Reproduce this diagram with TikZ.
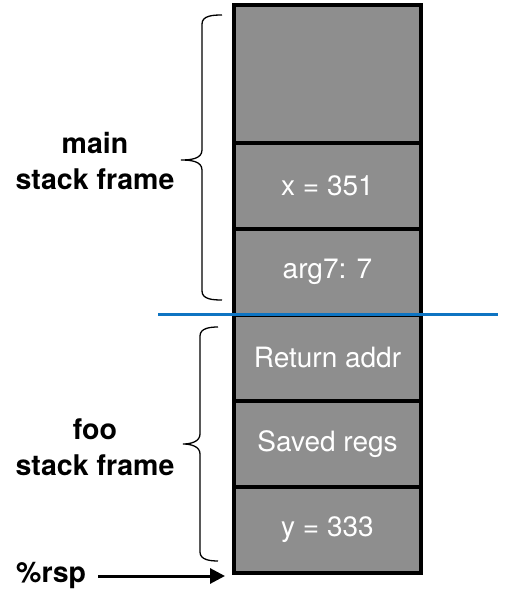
\documentclass[tikz,border=0pt]{standalone}
\usepackage{fontspec}
\setsansfont{TeX Gyre Heros}
\usetikzlibrary{arrows.meta,positioning}

\definecolor{cellgray}{RGB}{142,142,142}
\definecolor{cutblue}{RGB}{14,116,194}

\begin{document}
\begin{tikzpicture}[
        x=1pt, y=1pt,
        cell/.style={draw, fill=cellgray, line width=3.5pt, outer sep=0pt,
            minimum width=187pt, minimum height=86pt, text=white,
            font=\sffamily\fontsize{28}{32}\selectfont},
        frame/.style={font=\sffamily\bfseries\fontsize{28.5}{36}\selectfont, align=center},
        curly/.style={line width=1.3pt},
        cut/.style={cutblue, line width=3pt},
        ptr/.style={-{Triangle[length=15pt,width=15pt]}, line width=3pt}
    ]
    \useasboundingbox (0,0) rectangle (505,590);

    % Stack cells
    \node[cell, minimum height=138pt, anchor=north] (top) at (327.5,585) {};
    \node[cell, below=0pt of top] (xval) {x = 351};
    \node[cell, below=0pt of xval] (arg) {arg7: 7};
    \node[cell, below=0pt of arg] (ret) {Return addr};
    \node[cell, below=0pt of ret] (regs) {Saved regs};
    \node[cell, below=0pt of regs] (yval) {y = 333};

    % Frame boundary
    \draw[cut] ([xshift=-76pt]arg.south west) -- ([xshift=77pt]arg.south east);

    % Braces
    \draw[curly] (222,575) to[out=180,in=90] (202,566) -- (202,440)
        to[out=-90,in=0] (181,430) to[out=0,in=90] (202,420)
        -- (202,299) to[out=-90,in=180] (222,290);
    \draw[curly] (218,263) to[out=180,in=90] (200,254) -- (200,156)
        to[out=-90,in=0] (183,146) to[out=0,in=90] (200,136)
        -- (200,38) to[out=-90,in=180] (218,29);

    % Labels
    \node[frame] (mainlbl) at (95,429) {main\\stack frame};
    \node[frame] (foolbl) at (95,143) {foo\\stack frame};

    % Stack pointer
    \node[frame, inner sep=0pt, anchor=base west] (rsp) at (16,7) {\%rsp};
    \draw[ptr, shorten <=12pt, shorten >=9pt] (rsp.east) -- (rsp.east -| yval.west);

\end{tikzpicture}
\end{document}
